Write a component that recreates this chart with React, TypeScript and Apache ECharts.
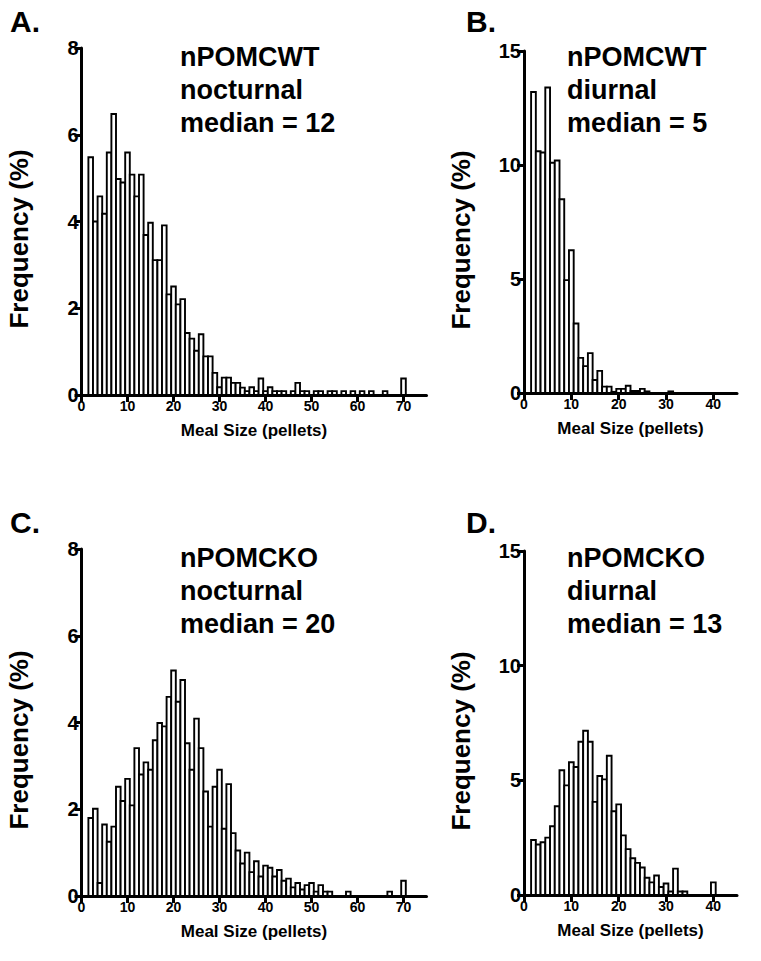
import React, { useEffect, useRef } from "react";
import * as echarts from "echarts";

// Meal size bins (pellets)
const nocturnalSizes = [
  2, 3, 4, 5, 6, 7, 8, 9, 10, 11, 12, 13, 14, 15, 16, 17, 18, 19, 20, 21,
  22, 23, 24, 25, 26, 27, 28, 29, 30, 31, 32, 33, 34, 35, 36, 37, 38, 39, 40, 41,
  42, 43, 44, 45, 46, 47, 48, 49, 50, 51, 52, 53, 54, 55, 56, 57, 58, 59, 60, 61,
  62, 63, 64, 65, 66, 67, 68, 69, 70,
];
const diurnalSizesB = [
  2, 3, 4, 5, 6, 7, 8, 9, 10, 11, 12, 13, 14, 15, 16, 17, 18, 19, 20, 21,
  22, 23, 24, 25, 26, 27, 28, 29, 30, 31,
];
const diurnalSizesD = [
  2, 3, 4, 5, 6, 7, 8, 9, 10, 11, 12, 13, 14, 15, 16, 17, 18, 19, 20, 21,
  22, 23, 24, 25, 26, 27, 28, 29, 30, 31, 32, 33, 34, 35, 36, 37, 38, 39, 40,
];

// Frequency (%) per bin
const freqA = [
  5.48, 4.0, 4.58, 4.18, 5.59, 6.48, 4.98, 4.9, 5.59, 5.08,
  4.58, 5.08, 3.69, 3.97, 3.11, 3.11, 3.91, 2.32, 2.5, 2.09,
  2.21, 1.43, 1.3, 1.02, 1.4, 0.89, 0.89, 0.51, 0.18, 0.4,
  0.4, 0.28, 0.28, 0.17, 0.09, 0.18, 0.09, 0.38, 0.09, 0.18,
  0.09, 0.09, 0.09, 0, 0.09, 0.28, 0.09, 0.09, 0, 0.09,
  0.09, 0, 0.09, 0.09, 0, 0.09, 0, 0.09, 0, 0.09,
  0, 0.09, 0, 0, 0.09, 0, 0, 0, 0.38,
];
const freqB = [
  13.2, 10.6, 10.55, 13.4, 10.1, 10.2, 8.5, 4.95, 6.26, 3.05,
  1.54, 1.18, 1.75, 0.57, 0.97, 0.28, 0.28, 0.05, 0.18, 0.18,
  0.32, 0.09, 0.09, 0.18, 0.07, 0, 0, 0, 0, 0.07,
];
const freqC = [
  1.8, 2.01, 0.3, 1.65, 1.25, 1.6, 2.52, 2.19, 2.7, 2.09,
  3.41, 2.8, 3.08, 2.91, 3.59, 3.99, 3.91, 4.59, 5.2, 4.48,
  4.98, 3.52, 2.91, 4.09, 3.41, 2.41, 1.6, 2.52, 2.91, 1.55,
  2.58, 1.45, 1.05, 0.75, 1.0, 0.55, 0.8, 0.45, 0.7, 0.65,
  0.45, 0.6, 0.35, 0.4, 0.2, 0.3, 0.15, 0.25, 0.3, 0.1,
  0.25, 0.1, 0.1, 0, 0, 0, 0.1, 0, 0, 0,
  0, 0, 0, 0, 0, 0.1, 0, 0, 0.35,
];
const freqD = [
  2.4, 2.2, 2.3, 2.5, 3.0, 3.87, 5.44, 4.78, 5.79, 5.58,
  6.68, 7.16, 6.68, 4.06, 5.19, 5.04, 6.07, 3.65, 3.95, 2.6,
  2.0, 1.6, 1.4, 1.2, 0.75, 0.55, 0.85, 0.35, 0.5, 0.15,
  1.15, 0.15, 0.15, 0, 0, 0, 0, 0, 0.55,
];

// Tick labels
const xTicksNocturnal = [0, 10, 20, 30, 40, 50, 60, 70];
const xTicksDiurnal = [0, 10, 20, 30, 40];
const yTicksNocturnal = [0, 2, 4, 6, 8];
const yTicksDiurnal = [0, 5, 10, 15];

// Panel texts
const panelLetters = ["A.", "B.", "C.", "D."];
const panelNotes = [
  "nPOMCWT\nnocturnal\nmedian = 12",
  "nPOMCWT\ndiurnal\nmedian = 5",
  "nPOMCKO\nnocturnal\nmedian = 20",
  "nPOMCKO\ndiurnal\nmedian = 13",
];
const yTitle = "Frequency (%)";
const xTitle = "Meal Size (pellets)";

const FONT = '"Liberation Sans", Arial, Helvetica, sans-serif';

export default function App() {
  const ref = useRef<HTMLDivElement>(null);

  useEffect(() => {
    if (!ref.current) return;
    const chart = echarts.init(ref.current, null, { renderer: "svg" });

    const panels = [
      { sizes: nocturnalSizes, freq: freqA, xMax: 75, xTicks: xTicksNocturnal, yTicks: yTicksNocturnal,
        left: 81.5, top: 48, width: 345, height: 347, letterX: 10, letterY: 33, noteX: 180, noteY: 40,
        yTitleX: 19, yTitleY: 239 },
      { sizes: diurnalSizesB, freq: freqB, xMax: 45, xTicks: xTicksDiurnal, yTicks: yTicksDiurnal,
        left: 524, top: 51, width: 213, height: 342, letterX: 466, letterY: 33, noteX: 567, noteY: 40,
        yTitleX: 461, yTitleY: 240 },
      { sizes: nocturnalSizes, freq: freqC, xMax: 75, xTicks: xTicksNocturnal, yTicks: yTicksNocturnal,
        left: 81.5, top: 549, width: 345, height: 347, letterX: 10, letterY: 534, noteX: 180, noteY: 541,
        yTitleX: 19, yTitleY: 740 },
      { sizes: diurnalSizesD, freq: freqD, xMax: 45, xTicks: xTicksDiurnal, yTicks: yTicksDiurnal,
        left: 524, top: 551, width: 213, height: 344, letterX: 466, letterY: 534, noteX: 567, noteY: 541,
        yTitleX: 461, yTitleY: 741 },
    ];

    const option: any = {
      animation: false,
      backgroundColor: "#fff",
      textStyle: { fontFamily: FONT, fontSize: 14 },
      grid: panels.map((p) => ({
        left: p.left, top: p.top, width: p.width, height: p.height,
        containLabel: false, outerBoundsMode: "none",
      })),
      xAxis: panels.map((p, i) => ({
        type: "value",
        gridIndex: i,
        min: 0,
        max: p.xMax,
        axisLine: { show: true, onZero: false, lineStyle: { color: "#000", width: 3 } },
        axisTick: { show: true, length: 7, lineStyle: { color: "#000", width: 3 }, customValues: p.xTicks },
        axisLabel: {
          customValues: p.xTicks, margin: 4,
          color: "#000", fontWeight: "bold", fontSize: 14, fontFamily: FONT,
        },
        splitLine: { show: false },
        name: xTitle,
        nameLocation: "middle",
        nameGap: 27,
        nameTextStyle: { color: "#000", fontWeight: "bold", fontSize: 17, fontFamily: FONT },
      })),
      yAxis: panels.map((p, i) => {
        const yMin = p.yTicks[0];
        const yMax = p.yTicks[p.yTicks.length - 1];
        const yStep = p.yTicks[1] - p.yTicks[0];
        return {
          type: "value",
          gridIndex: i,
          min: yMin,
          max: yMax,
          interval: yStep,
          axisLine: { show: true, onZero: false, lineStyle: { color: "#000", width: 3 } },
          axisTick: { show: true, length: 7, lineStyle: { color: "#000", width: 3 } },
          axisLabel: {
            show: true, margin: 3, hideOverlap: false,
            color: "#000", fontWeight: "bold", fontSize: 20, fontFamily: FONT,
          },
          splitLine: { show: false },
        };
      }),
      series: panels.map((p, i) => ({
        type: "custom",
        xAxisIndex: i,
        yAxisIndex: i,
        encode: { x: 0, y: 1 },
        data: p.sizes.map((s, k) => [s, p.freq[k]]),
        renderItem: (params: any, api: any) => {
          const x = api.value(0);
          const y = api.value(1);
          if (!(y > 0)) return null;
          const p0 = api.coord([x - 0.5, 0]);
          const p1 = api.coord([x + 0.5, y]);
          return {
            type: "rect",
            shape: { x: p0[0], y: p1[1], width: p1[0] - p0[0], height: p0[1] - p1[1] },
            style: { fill: "#fff", stroke: "#000", lineWidth: 1.9 },
          };
        },
      })),
      graphic: [
        ...panels.map((p, i) => ({
          type: "text",
          left: p.letterX,
          top: p.letterY - 27,
          style: { text: panelLetters[i], font: `bold 30px ${FONT}`, fill: "#000" },
        })),
        ...panels.map((p, i) => ({
          type: "text",
          left: p.noteX,
          top: p.noteY,
          style: { text: panelNotes[i], font: `bold 27px ${FONT}`, fill: "#000", lineHeight: 33 },
        })),
        ...panels.map((p) => ({
          type: "text",
          x: p.yTitleX,
          y: p.yTitleY,
          rotation: Math.PI / 2,
          style: {
            text: yTitle, font: `bold 26px ${FONT}`, fill: "#000",
            textAlign: "center", textVerticalAlign: "middle",
          },
        })),
      ],
    };

    chart.setOption(option);
    return () => chart.dispose();
  }, []);

  return (
    <div
      ref={ref}
      style={{ position: "fixed", left: 0, top: 0, width: 761, height: 961, background: "#fff" }}
    />
  );
}
